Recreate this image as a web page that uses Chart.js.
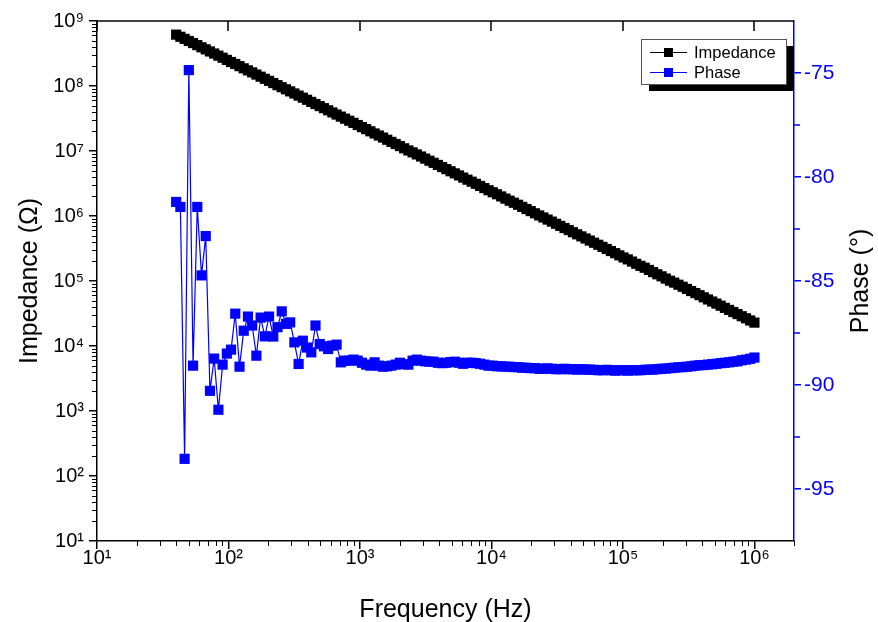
<!DOCTYPE html>
<html lang="en">
<head>
  <meta charset="UTF-8">
  <title>Impedance and phase vs frequency</title>
  <script src="https://cdn.jsdelivr.net/npm/chart.js"></script>
  <style>
    html, body { margin: 0; padding: 0; background: #fff; }
  </style>
</head>
<body>
  <canvas id="bodeChart" width="878" height="622"></canvas>

  <script>
    // sweep points (Hz)
    const frequency = [
      40, 43.07, 46.38, 49.94, 53.77, 57.90, 62.34, 67.13, 72.28, 77.83,
      83.80, 90.23, 97.15, 104.6, 112.6, 121.3, 130.6, 140.6, 151.4, 163.0,
      175.5, 189.0, 203.5, 219.1, 235.9, 254.0, 273.5, 294.5, 317.1, 341.4,
      367.6, 395.8, 426.2, 458.9, 494.1, 532.0, 572.8, 616.8, 664.1, 715.1,
      769.9, 828.9, 892.5, 961.0, 1035, 1114, 1200, 1292, 1391, 1498,
      1612, 1736, 1869, 2013, 2167, 2334, 2513, 2705, 2913, 3136,
      3377, 3636, 3915, 4216, 4539, 4887, 5262, 5666, 6101, 6569,
      7073, 7615, 8200, 8829, 9506, 10236, 11021, 11867, 12777, 13758,
      14800, 15941, 17162, 18478, 19895, 21422, 23066, 24834, 26740, 28791,
      31000, 33378, 35938, 38696, 41664, 44861, 48302, 52007, 55998, 60294,
      64919, 69899, 75261, 81036, 87252, 93945, 101130, 108890, 117250, 126240,
      135930, 146350, 157580, 169670, 182690, 196700, 211790, 228040, 245540, 264370,
      284650, 306490, 330000, 355320, 382580, 411930, 443530, 477560, 514200, 553640,
      596120, 641850, 691090, 744110, 801200, 862660, 928840, 1000000
    ];

    // |Z| in ohm
    const impedance = [
      6.17e8, 5.72e8, 5.31e8, 4.93e8, 4.58e8, 4.25e8, 3.94e8, 3.66e8, 3.40e8, 3.16e8,
      2.93e8, 2.72e8, 2.52e8, 2.34e8, 2.18e8, 2.02e8, 1.87e8, 1.74e8, 1.62e8, 1.50e8,
      1.39e8, 1.29e8, 1.20e8, 1.11e8, 1.03e8, 9.59e7, 8.90e7, 8.27e7, 7.67e7, 7.12e7,
      6.61e7, 6.14e7, 5.69e7, 5.28e7, 4.91e7, 4.56e7, 4.23e7, 3.92e7, 3.64e7, 3.38e7,
      3.14e7, 2.92e7, 2.71e7, 2.51e7, 2.33e7, 2.17e7, 2.01e7, 1.86e7, 1.73e7, 1.61e7,
      1.49e7, 1.38e7, 1.28e7, 1.19e7, 1.10e7, 1.02e7, 9.54e6, 8.86e6, 8.23e6, 7.63e6,
      7.08e6, 6.58e6, 6.11e6, 5.66e6, 5.26e6, 4.88e6, 4.53e6, 4.21e6, 3.90e6, 3.62e6,
      3.37e6, 3.13e6, 2.90e6, 2.69e6, 2.49e6, 2.32e6, 2.16e6, 2.00e6, 1.85e6, 1.72e6,
      1.60e6, 1.49e6, 1.38e6, 1.28e6, 1.19e6, 1.10e6, 1.02e6, 9.49e5, 8.81e5, 8.19e5,
      7.59e5, 7.05e5, 6.54e5, 6.08e5, 5.63e5, 5.23e5, 4.86e5, 4.51e5, 4.19e5, 3.88e5,
      3.61e5, 3.35e5, 3.11e5, 2.89e5, 2.68e5, 2.48e5, 2.30e5, 2.15e5, 1.99e5, 1.84e5,
      1.71e5, 1.60e5, 1.48e5, 1.37e5, 1.27e5, 1.18e5, 1.09e5, 1.01e5, 9.45e4, 8.77e4,
      8.15e4, 7.55e4, 7.01e4, 6.51e4, 6.05e4, 5.61e4, 5.20e4, 4.83e4, 4.49e4, 4.17e4,
      3.86e4, 3.59e4, 3.33e4, 3.10e4, 2.87e4, 2.67e4, 2.47e4, 2.29e4
    ];

    // phase in degrees
    const phase = [
      -81.20, -81.44, -93.55, -74.86, -89.07, -81.44, -84.73, -82.84, -90.28, -88.73,
      -91.19, -89.02, -88.49, -88.30, -86.57, -89.12, -87.39, -86.71, -87.14, -88.59,
      -86.76, -87.66, -86.71, -87.67, -87.22, -86.46, -87.06, -86.99, -87.95, -88.99,
      -87.87, -88.20, -88.43, -87.14, -88.03, -88.14, -88.27, -88.11, -88.06, -88.91,
      -88.83, -88.83, -88.78, -88.83, -88.93, -89.02, -89.07, -88.91, -89.07, -89.12,
      -89.10, -89.07, -89.02, -88.93, -89.00, -89.02, -88.83, -88.78, -88.83, -88.86,
      -88.88, -88.88, -88.93, -88.95, -88.93, -88.90, -88.88, -88.93, -88.98, -88.93,
      -88.93, -88.95, -88.98, -89.02, -89.07, -89.07, -89.10, -89.10, -89.12, -89.12,
      -89.14, -89.14, -89.17, -89.17, -89.19, -89.19, -89.22, -89.22, -89.20, -89.22,
      -89.24, -89.24, -89.22, -89.24, -89.24, -89.26, -89.24, -89.26, -89.26, -89.27,
      -89.29, -89.29, -89.27, -89.29, -89.31, -89.29, -89.29, -89.31, -89.29, -89.29,
      -89.29, -89.27, -89.26, -89.26, -89.24, -89.22, -89.21, -89.19, -89.17, -89.15,
      -89.14, -89.12, -89.10, -89.07, -89.05, -89.04, -89.02, -89.00, -88.98, -88.95,
      -88.93, -88.91, -88.88, -88.86, -88.81, -88.78, -88.74, -88.68
    ];

    // axis ticks
    const freqTicks = [10, 100, 1e3, 1e4, 1e5, 1e6];
    const impedanceTicks = [10, 100, 1e3, 1e4, 1e5, 1e6, 1e7, 1e8, 1e9];
    const phaseTicks = [-95, -90, -85, -80, -75];
    const phaseMinorTicks = [-92.5, -87.5, -82.5, -77.5];

    const BLUE = '#0000ff';
    const FONT = '"Liberation Sans", Arial, sans-serif';
    Chart.defaults.font.family = FONT;

    const SUP = ['\u2070', '\u00b9', '\u00b2', '\u00b3', '\u2074', '\u2075', '\u2076', '\u2077', '\u2078', '\u2079'];
    const powLabel = v => '10' + SUP[Math.round(Math.log10(v))];

    // frame, minor ticks, legend box and right-hand title
    const decorations = {
      id: 'decorations',
      afterDraw(chart) {
        const { ctx, chartArea: a, scales } = chart;
        const sx = scales.x, sy = scales.y, sp = scales.y1;
        ctx.save();
        ctx.strokeStyle = '#000';
        ctx.lineWidth = 1.5;
        ctx.beginPath();
        ctx.moveTo(a.left, a.top);
        ctx.lineTo(a.right, a.top);
        ctx.stroke();

        // top axis, inward major ticks
        ctx.beginPath();
        freqTicks.forEach(v => {
          const px = Math.round(sx.getPixelForValue(v));
          ctx.moveTo(px, a.top);
          ctx.lineTo(px, a.top + 10);
        });
        ctx.stroke();

        // minor log ticks
        ctx.lineWidth = 1;
        ctx.beginPath();
        freqTicks.forEach(d => {
          for (let m = 2; m <= 9; m++) {
            const v = d * m;
            if (v > sx.max) break;
            const px = Math.round(sx.getPixelForValue(v)) + 0.5;
            ctx.moveTo(px, a.bottom);
            ctx.lineTo(px, a.bottom + 5);
          }
        });
        impedanceTicks.slice(0, -1).forEach(d => {
          for (let m = 2; m <= 9; m++) {
            const py = Math.round(sy.getPixelForValue(d * m)) + 0.5;
            ctx.moveTo(a.left, py);
            ctx.lineTo(a.left - 5, py);
          }
        });
        ctx.stroke();

        ctx.strokeStyle = BLUE;
        ctx.lineWidth = 1.5;
        ctx.beginPath();
        phaseMinorTicks.forEach(v => {
          const py = Math.round(sp.getPixelForValue(v));
          ctx.moveTo(a.right, py);
          ctx.lineTo(a.right + 6, py);
        });
        ctx.stroke();

        // legend
        const bx = a.right - 153, by = a.top + 18, bw = 145, bh = 45;
        ctx.fillStyle = '#000';
        ctx.fillRect(bx + 8, by + 7, bw, bh);
        ctx.fillStyle = '#fff';
        ctx.fillRect(bx, by, bw, bh);
        ctx.strokeStyle = '#555';
        ctx.lineWidth = 1;
        ctx.strokeRect(bx + 0.5, by + 0.5, bw, bh);

        ctx.font = '16.5px ' + FONT;
        ctx.textBaseline = 'middle';
        ctx.textAlign = 'left';
        chart.data.datasets.forEach((ds, i) => {
          const ly = by + 13 + i * 20;
          ctx.strokeStyle = ds.borderColor;
          ctx.lineWidth = 1;
          ctx.beginPath();
          ctx.moveTo(bx + 9, ly + 0.5);
          ctx.lineTo(bx + 46, ly + 0.5);
          ctx.stroke();
          ctx.fillStyle = ds.borderColor;
          ctx.fillRect(bx + 23, ly - 4, 9, 9);
          ctx.fillStyle = '#000';
          ctx.fillText(ds.label, bx + 53, ly + 1);
        });

        // right axis title, reading bottom to top like the left one
        ctx.translate(a.right + 67, (a.top + a.bottom) / 2);
        ctx.rotate(-Math.PI / 2);
        ctx.font = '25px ' + FONT;
        ctx.textAlign = 'center';
        ctx.fillStyle = '#000';
        ctx.fillText('Phase (\u00b0)', 0, 0);
        ctx.restore();
      }
    };

    const ctx = document.getElementById('bodeChart').getContext('2d');
    new Chart(ctx, {
      type: 'line',
      data: {
        datasets: [
          {
            label: 'Impedance',
            data: frequency.map((f, i) => ({ x: f, y: impedance[i] })),
            yAxisID: 'y',
            borderColor: '#000000',
            backgroundColor: '#000000',
            borderWidth: 1,
            pointStyle: 'rect',
            pointRadius: 7.2,
            pointBorderWidth: 0,
            tension: 0
          },
          {
            label: 'Phase',
            data: frequency.map((f, i) => ({ x: f, y: phase[i] })),
            yAxisID: 'y1',
            borderColor: BLUE,
            backgroundColor: BLUE,
            borderWidth: 1.2,
            pointStyle: 'rect',
            pointRadius: 7.2,
            pointBorderWidth: 0,
            tension: 0
          }
        ]
      },
      options: {
        responsive: false,
        animation: false,
        events: [],
        layout: { padding: { top: 21, left: 0, right: 0, bottom: 0 } },
        plugins: { legend: { display: false }, tooltip: { enabled: false } },
        scales: {
          x: {
            type: 'logarithmic',
            min: 10,
            max: 2e6,
            afterBuildTicks: s => { s.ticks = freqTicks.map(v => ({ value: v })); },
            afterFit: s => { s.height = 81; },
            ticks: { callback: v => powLabel(v), color: '#000', font: { size: 20 }, padding: -3, maxRotation: 0, autoSkip: false },
            grid: { drawOnChartArea: false, tickLength: 8, color: '#000', lineWidth: 1.5 },
            border: { color: '#000', width: 1.5 },
            title: { display: true, text: 'Frequency (Hz)', color: '#000', font: { size: 25 }, padding: { top: 0, bottom: -3 } }
          },
          y: {
            type: 'logarithmic',
            position: 'left',
            min: 10,
            max: 1e9,
            afterBuildTicks: s => { s.ticks = impedanceTicks.map(v => ({ value: v })); },
            afterFit: s => { s.width = 97; },
            ticks: { callback: v => powLabel(v), color: '#000', font: { size: 20 }, padding: 5, autoSkip: false },
            grid: { drawOnChartArea: false, tickLength: 8, color: '#000', lineWidth: 1.5 },
            border: { color: '#000', width: 1.5 },
            title: { display: true, text: 'Impedance (\u03a9)', color: '#000', font: { size: 25 }, padding: { top: 15, bottom: 0 } }
          },
          y1: {
            type: 'linear',
            position: 'right',
            min: -97.5,
            max: -72.5,
            afterBuildTicks: s => { s.ticks = phaseTicks.map(v => ({ value: v })); },
            afterFit: s => { s.width = 84; },
            ticks: { color: BLUE, font: { size: 21 }, padding: 3, autoSkip: false },
            grid: { drawOnChartArea: false, tickLength: 7, color: BLUE, lineWidth: 1.5 },
            border: { color: BLUE, width: 1.5 }
          }
        }
      },
      plugins: [decorations]
    });
  </script>
</body>
</html>
